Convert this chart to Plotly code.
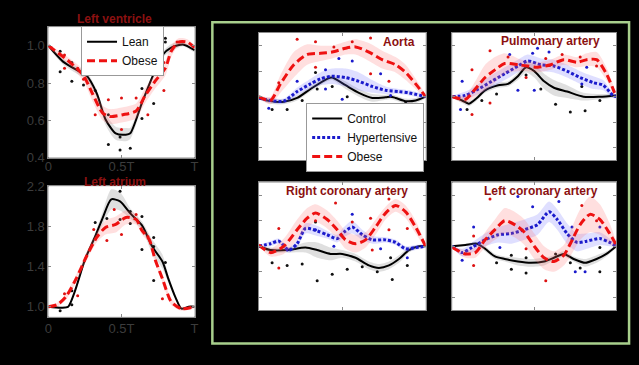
import plotly.graph_objects as go

# ---------------- DATA ----------------
# Left ventricle (normalized volume)
lv_lean_t = [0, 0.1, 0.21, 0.26, 0.33, 0.39, 0.46, 0.53, 0.56, 0.64, 0.71, 0.78, 0.84, 0.92, 1.0]
lv_lean = [1.0, 0.915, 0.863, 0.84, 0.745, 0.606, 0.53, 0.523, 0.53, 0.693, 0.83, 0.95, 0.99, 1.007, 0.976]
lv_lean_sd = [0.01, 0.015, 0.02, 0.02, 0.02, 0.03, 0.035, 0.035, 0.03, 0.02, 0.015, 0.015, 0.02, 0.01, 0.01]
lv_obese_t = [0, 0.15, 0.24, 0.30, 0.37, 0.42, 0.51, 0.6, 0.66, 0.73, 0.8, 0.84, 0.89, 0.95, 1.0]
lv_obese = [1.0, 0.91, 0.84, 0.745, 0.64, 0.62, 0.63, 0.65, 0.73, 0.81, 0.88, 0.97, 1.02, 1.02, 0.99]
lv_obese_sd = [0.01, 0.02, 0.03, 0.04, 0.04, 0.04, 0.04, 0.04, 0.04, 0.04, 0.04, 0.03, 0.02, 0.015, 0.01]
lv_lean_pts_t = [0.08, 0.08, 0.16, 0.16, 0.24, 0.24, 0.32, 0.41, 0.41, 0.49, 0.49, 0.56, 0.64, 0.64, 0.72, 0.72, 0.8, 0.8]
lv_lean_pts = [0.97, 0.86, 0.91, 0.81, 0.91, 0.79, 0.76, 0.63, 0.47, 0.44, 0.51, 0.45, 0.77, 0.61, 0.94, 0.69, 1.04, 1.02]
lv_obese_pts_t = [0.02, 0.11, 0.11, 0.2, 0.24, 0.32, 0.41, 0.5, 0.5, 0.6, 0.68, 0.79, 0.79, 0.88]
lv_obese_pts = [0.99, 0.95, 0.88, 0.88, 0.82, 0.63, 0.71, 0.72, 0.55, 0.72, 0.63, 0.91, 0.76, 1.02]

# Left atrium
la_lean_t = [0, 0.09, 0.135, 0.18, 0.25, 0.32, 0.37, 0.43, 0.49, 0.56, 0.64, 0.71, 0.78, 0.82, 0.87, 0.91, 0.96, 1.0]
la_lean = [1.0, 0.99, 1.0, 1.15, 1.47, 1.70, 1.88, 2.07, 2.05, 1.93, 1.81, 1.6, 1.45, 1.28, 1.09, 0.98, 1.0, 1.0]
la_lean_sd = [0.01, 0.01, 0.01, 0.02, 0.03, 0.04, 0.06, 0.1, 0.09, 0.05, 0.04, 0.07, 0.07, 0.04, 0.02, 0.01, 0.01, 0.01]
la_obese_t = [0, 0.06, 0.12, 0.19, 0.26, 0.33, 0.39, 0.46, 0.53, 0.6, 0.64, 0.69, 0.73, 0.78, 0.84, 0.91, 1.0]
la_obese = [1.0, 1.02, 1.1, 1.28, 1.5, 1.69, 1.79, 1.82, 1.89, 1.87, 1.76, 1.67, 1.47, 1.28, 1.05, 0.98, 1.0]
la_obese_sd = [0.01, 0.02, 0.03, 0.04, 0.04, 0.05, 0.07, 0.08, 0.07, 0.05, 0.04, 0.04, 0.04, 0.04, 0.03, 0.02, 0.01]
la_lean_pts_t = [0.08, 0.16, 0.16, 0.32, 0.32, 0.4, 0.49, 0.49, 0.56, 0.56, 0.64, 0.64, 0.72, 0.72, 0.72, 0.8]
la_lean_pts = [0.96, 1.02, 1.16, 1.84, 1.68, 1.88, 2.15, 1.87, 1.95, 1.83, 1.9, 1.57, 1.69, 1.26, 1.6, 1.44]
la_obese_pts_t = [0.11, 0.2, 0.31, 0.4, 0.45, 0.5, 0.6, 0.68, 0.78]
la_obese_pts = [1.13, 1.11, 1.77, 1.66, 1.97, 1.72, 1.92, 1.7, 1.08]

# Aorta
ao_ctl_t = [0, 0.07, 0.15, 0.23, 0.31, 0.41, 0.44, 0.52, 0.6, 0.68, 0.76, 0.79, 0.82, 0.88, 0.94, 1.0]
ao_ctl = [0.99, 0.965, 0.96, 0.99, 1.06, 1.14, 1.15, 1.09, 1.03, 0.99, 0.995, 1.0, 0.99, 0.965, 0.97, 1.0]
ao_ctl_sd = [0.01, 0.02, 0.02, 0.02, 0.02, 0.02, 0.02, 0.03, 0.03, 0.03, 0.02, 0.02, 0.02, 0.02, 0.02, 0.01]
ao_hyp_t = [0, 0.07, 0.15, 0.23, 0.31, 0.37, 0.44, 0.52, 0.6, 0.68, 0.76, 0.84, 0.9, 1.0]
ao_hyp = [0.99, 0.97, 0.965, 1.04, 1.1, 1.14, 1.16, 1.15, 1.12, 1.08, 1.05, 1.04, 1.03, 1.0]
ao_hyp_sd = [0.01, 0.02, 0.02, 0.03, 0.04, 0.05, 0.06, 0.07, 0.07, 0.05, 0.03, 0.02, 0.02, 0.01]
ao_obe_t = [0, 0.07, 0.13, 0.21, 0.29, 0.37, 0.44, 0.52, 0.58, 0.66, 0.74, 0.82, 0.88, 0.94, 1.0]
ao_obe = [1.0, 0.97, 1.1, 1.25, 1.33, 1.34, 1.35, 1.38, 1.39, 1.35, 1.29, 1.25, 1.19, 1.1, 1.0]
ao_obe_sd = [0.01, 0.03, 0.07, 0.1, 0.08, 0.06, 0.05, 0.05, 0.06, 0.07, 0.07, 0.06, 0.06, 0.04, 0.01]
ao_ctl_pts_t = [0.08, 0.17, 0.26, 0.34, 0.35, 0.44, 0.53, 0.71, 0.88]
ao_ctl_pts = [0.9, 0.9, 0.97, 1.19, 1.06, 1.08, 1.0, 0.91, 0.95]
ao_hyp_pts_t = [0.06, 0.23, 0.4, 0.4, 0.48, 0.5, 0.56, 0.69, 0.73, 0.79, 0.89]
ao_hyp_pts = [0.91, 1.12, 1.21, 1.06, 1.3, 0.98, 1.28, 0.91, 1.18, 1.01, 0.94]
ao_obe_pts_t = [0.12, 0.23, 0.34, 0.34, 0.45, 0.56, 0.67, 0.67, 0.78, 0.9]
ao_obe_pts = [1.11, 1.45, 1.43, 1.23, 1.39, 1.43, 1.46, 1.18, 1.12, 0.94]

# Pulmonary artery
pa_ctl_t = [0, 0.06, 0.1, 0.15, 0.2, 0.28, 0.34, 0.4, 0.45, 0.5, 0.56, 0.62, 0.7, 0.8, 0.9, 1.0]
pa_ctl = [1.0, 0.97, 0.945, 0.99, 1.05, 1.09, 1.1, 1.16, 1.23, 1.2, 1.12, 1.07, 1.04, 1.0, 1.0, 1.01]
pa_ctl_sd = [0.01, 0.02, 0.02, 0.02, 0.02, 0.02, 0.02, 0.03, 0.04, 0.05, 0.06, 0.06, 0.05, 0.03, 0.02, 0.01]
pa_hyp_t = [0, 0.08, 0.16, 0.24, 0.32, 0.4, 0.46, 0.54, 0.62, 0.7, 0.78, 0.86, 0.92, 0.98, 1.0]
pa_hyp = [1.0, 1.01, 1.06, 1.12, 1.18, 1.24, 1.28, 1.25, 1.24, 1.2, 1.15, 1.11, 1.09, 1.01, 1.0]
pa_hyp_sd = [0.01, 0.03, 0.04, 0.05, 0.05, 0.05, 0.05, 0.05, 0.05, 0.05, 0.05, 0.05, 0.04, 0.02, 0.01]
pa_obe_t = [0, 0.08, 0.14, 0.2, 0.26, 0.32, 0.4, 0.46, 0.52, 0.6, 0.68, 0.76, 0.82, 0.88, 0.94, 0.99]
pa_obe = [1.0, 0.98, 1.06, 1.15, 1.21, 1.26, 1.25, 1.24, 1.23, 1.25, 1.29, 1.27, 1.29, 1.29, 1.18, 1.03]
pa_obe_sd = [0.01, 0.03, 0.06, 0.1, 0.1, 0.08, 0.05, 0.04, 0.04, 0.04, 0.04, 0.04, 0.05, 0.06, 0.05, 0.02]
pa_ctl_pts_t = [0.09, 0.18, 0.27, 0.45, 0.54, 0.63, 0.72, 0.79, 0.81, 0.9]
pa_ctl_pts = [0.9, 0.97, 1.02, 1.17, 1.06, 0.94, 0.88, 1.08, 0.89, 0.97]
pa_hyp_pts_t = [0.05, 0.06, 0.35, 0.4, 0.49, 0.5, 0.52, 0.59, 0.79, 0.82]
pa_hyp_pts = [0.9, 1.12, 1.33, 1.05, 1.34, 1.05, 1.38, 1.35, 1.1, 1.23]
pa_obe_pts_t = [0.12, 0.12, 0.23, 0.23, 0.34, 0.45, 0.57, 0.67, 0.78, 0.88]
pa_obe_pts = [1.21, 0.86, 1.36, 0.95, 1.31, 1.15, 1.3, 1.33, 1.31, 1.24]

# Right coronary artery
rc_ctl_t = [0, 0.07, 0.17, 0.28, 0.35, 0.43, 0.5, 0.58, 0.66, 0.72, 0.78, 0.84, 0.9, 0.96, 1.0]
rc_ctl = [1.0, 0.97, 0.97, 0.99, 0.97, 0.94, 0.94, 0.91, 0.85, 0.83, 0.85, 0.9, 0.97, 1.0, 1.0]
rc_ctl_sd = [0.01, 0.02, 0.02, 0.04, 0.06, 0.05, 0.03, 0.03, 0.03, 0.03, 0.03, 0.03, 0.02, 0.01, 0.01]
rc_hyp_t = [0, 0.07, 0.12, 0.18, 0.23, 0.28, 0.35, 0.41, 0.47, 0.51, 0.56, 0.62, 0.68, 0.76, 0.82, 0.88, 0.94, 1.0]
rc_hyp = [1.0, 1.02, 1.04, 0.97, 1.02, 1.14, 1.12, 1.09, 1.06, 1.11, 1.15, 1.09, 1.05, 1.05, 1.03, 0.98, 0.99, 1.0]
rc_hyp_sd = [0.01, 0.02, 0.02, 0.02, 0.03, 0.04, 0.04, 0.03, 0.03, 0.04, 0.05, 0.04, 0.03, 0.02, 0.02, 0.02, 0.02, 0.01]
rc_obe_t = [0, 0.07, 0.15, 0.23, 0.29, 0.34, 0.41, 0.47, 0.52, 0.58, 0.64, 0.7, 0.76, 0.82, 0.88, 0.94, 1.0]
rc_obe = [1.01, 0.95, 1.0, 1.13, 1.22, 1.26, 1.21, 1.13, 1.05, 1.02, 1.05, 1.15, 1.26, 1.32, 1.27, 1.15, 1.0]
rc_obe_sd = [0.01, 0.03, 0.06, 0.08, 0.08, 0.07, 0.07, 0.07, 0.07, 0.07, 0.06, 0.06, 0.05, 0.05, 0.05, 0.05, 0.01]
rc_ctl_pts_t = [0.08, 0.17, 0.26, 0.34, 0.35, 0.44, 0.53, 0.62, 0.71, 0.79, 0.8, 0.89]
rc_ctl_pts = [0.87, 0.85, 0.86, 1.19, 0.73, 0.78, 0.82, 0.84, 0.8, 0.91, 0.74, 0.85]
rc_hyp_pts_t = [0.17, 0.34, 0.45, 0.56, 0.73, 0.89]
rc_hyp_pts = [0.97, 1.13, 1.0, 1.25, 0.98, 0.91]
rc_obe_pts_t = [0.12, 0.12, 0.34, 0.46, 0.56, 0.67, 0.68, 0.78, 0.78, 0.89]
rc_obe_pts = [1.14, 0.83, 1.2, 1.34, 1.19, 1.22, 0.97, 1.37, 1.13, 1.14]

# Left coronary artery
lc_ctl_t = [0, 0.08, 0.15, 0.2, 0.26, 0.32, 0.4, 0.48, 0.56, 0.62, 0.68, 0.74, 0.81, 0.88, 0.94, 1.0]
lc_ctl = [1.0, 1.01, 1.02, 0.98, 0.92, 0.9, 0.88, 0.87, 0.88, 0.91, 0.94, 0.9, 0.87, 0.9, 0.94, 1.0]
lc_ctl_sd = [0.01, 0.01, 0.01, 0.02, 0.02, 0.02, 0.03, 0.03, 0.03, 0.02, 0.02, 0.02, 0.03, 0.03, 0.02, 0.01]
lc_hyp_t = [0, 0.06, 0.12, 0.2, 0.28, 0.36, 0.44, 0.52, 0.59, 0.64, 0.7, 0.76, 0.82, 0.9, 0.96, 1.0]
lc_hyp = [1.0, 0.95, 0.99, 1.05, 1.09, 1.1, 1.13, 1.17, 1.27, 1.21, 1.1, 1.03, 1.04, 1.06, 1.03, 1.0]
lc_hyp_sd = [0.01, 0.03, 0.04, 0.05, 0.06, 0.08, 0.08, 0.08, 0.08, 0.08, 0.08, 0.07, 0.06, 0.05, 0.03, 0.01]
lc_obe_t = [0, 0.08, 0.14, 0.2, 0.26, 0.32, 0.38, 0.44, 0.5, 0.56, 0.62, 0.68, 0.72, 0.78, 0.84, 0.9, 0.96, 1.0]
lc_obe = [0.99, 0.94, 0.95, 1.05, 1.13, 1.2, 1.17, 1.11, 1.0, 0.91, 0.88, 0.93, 1.02, 1.17, 1.25, 1.21, 1.1, 1.01]
lc_obe_sd = [0.01, 0.03, 0.04, 0.06, 0.08, 0.1, 0.1, 0.1, 0.1, 0.09, 0.08, 0.08, 0.1, 0.12, 0.14, 0.12, 0.08, 0.02]
lc_ctl_pts_t = [0.27, 0.36, 0.36, 0.45, 0.45, 0.63, 0.72, 0.78, 0.9, 0.9]
lc_ctl_pts = [0.87, 0.82, 0.93, 0.79, 0.91, 0.94, 0.87, 0.83, 0.8, 0.99]
lc_hyp_pts_t = [0.06, 0.13, 0.29, 0.4, 0.49, 0.65, 0.73, 0.75, 0.81, 0.9]
lc_hyp_pts = [0.89, 1.15, 0.99, 1.39, 1.31, 1.35, 1.15, 0.8, 0.8, 1.15]
lc_obe_pts_t = [0.13, 0.13, 0.23, 0.45, 0.57, 0.79, 0.88]
lc_obe_pts = [1.08, 0.85, 1.37, 0.98, 0.73, 1.32, 1.2]

x_tick_vals = [0, 0.5, 1]
x_tick_text = ["0", "0.5T", "T"]

# ---------------- STYLE ----------------
W, H = 639, 365
BLACK, RED, BLUE = "#000000", "#ee1111", "#1a1acc"
BAND = {"k": "rgba(150,150,150,0.30)", "r": "rgba(255,110,110,0.22)", "b": "rgba(110,110,255,0.22)"}
LINE = {"k": dict(color=BLACK, width=2, dash="solid"),
        "r": dict(color=RED, width=3, dash="8px,4px"),
        "b": dict(color=BLUE, width=3, dash="3px,2px")}
DOT = {"k": "#111111", "r": "#dd1111", "b": "#1a1acc"}
TITLE_COLOR = "#8b1111"
FONT = "Arial, Liberation Sans, sans-serif"
SMOOTH = 0.7


def px_x(a, b):
    return [a / W, b / W]


def px_y(top, bottom):
    return [1 - bottom / H, 1 - top / H]


fig = go.Figure()


def add_series(ax, t, v, sd, pt_t, pt_v, key, name=None, legend=None):
    xa, ya = ("x", "y") if ax == 1 else (f"x{ax}", f"y{ax}")
    up = [a + s for a, s in zip(v, sd)]
    lo = [a - s for a, s in zip(v, sd)]
    fig.add_trace(go.Scatter(x=list(t) + list(t)[::-1], y=up + lo[::-1], fill="toself",
                             fillcolor=BAND[key], line=dict(width=0, shape="spline", smoothing=SMOOTH),
                             mode="lines", showlegend=False, hoverinfo="skip", xaxis=xa, yaxis=ya))
    fig.add_trace(go.Scatter(x=pt_t, y=pt_v, mode="markers", marker=dict(size=3, color=DOT[key]),
                             showlegend=False, xaxis=xa, yaxis=ya))
    ln = dict(LINE[key]); ln["shape"] = "spline"; ln["smoothing"] = SMOOTH
    if name is not None:
        kw = dict(name=name, showlegend=True, legend=legend)
    else:
        kw = dict(showlegend=False)
    fig.add_trace(go.Scatter(x=t, y=v, mode="lines", line=ln, xaxis=xa, yaxis=ya, **kw))


# LV (axis 1)
add_series(1, lv_lean_t, lv_lean, lv_lean_sd, lv_lean_pts_t, lv_lean_pts, "k", "Lean", "legend")
add_series(1, lv_obese_t, lv_obese, lv_obese_sd, lv_obese_pts_t, lv_obese_pts, "r", "Obese", "legend")
# LA (axis 2)
add_series(2, la_lean_t, la_lean, la_lean_sd, la_lean_pts_t, la_lean_pts, "k")
add_series(2, la_obese_t, la_obese, la_obese_sd, la_obese_pts_t, la_obese_pts, "r")
# Aorta (axis 3)
add_series(3, ao_ctl_t, ao_ctl, ao_ctl_sd, ao_ctl_pts_t, ao_ctl_pts, "k", "Control", "legend2")
add_series(3, ao_hyp_t, ao_hyp, ao_hyp_sd, ao_hyp_pts_t, ao_hyp_pts, "b", "Hypertensive", "legend2")
add_series(3, ao_obe_t, ao_obe, ao_obe_sd, ao_obe_pts_t, ao_obe_pts, "r", "Obese", "legend2")
# Pulmonary (axis 4)
add_series(4, pa_ctl_t, pa_ctl, pa_ctl_sd, pa_ctl_pts_t, pa_ctl_pts, "k")
add_series(4, pa_hyp_t, pa_hyp, pa_hyp_sd, pa_hyp_pts_t, pa_hyp_pts, "b")
add_series(4, pa_obe_t, pa_obe, pa_obe_sd, pa_obe_pts_t, pa_obe_pts, "r")
# RCA (axis 5)
add_series(5, rc_ctl_t, rc_ctl, rc_ctl_sd, rc_ctl_pts_t, rc_ctl_pts, "k")
add_series(5, rc_hyp_t, rc_hyp, rc_hyp_sd, rc_hyp_pts_t, rc_hyp_pts, "b")
add_series(5, rc_obe_t, rc_obe, rc_obe_sd, rc_obe_pts_t, rc_obe_pts, "r")
# LCA (axis 6)
add_series(6, lc_ctl_t, lc_ctl, lc_ctl_sd, lc_ctl_pts_t, lc_ctl_pts, "k")
add_series(6, lc_hyp_t, lc_hyp, lc_hyp_sd, lc_hyp_pts_t, lc_hyp_pts, "b")
add_series(6, lc_obe_t, lc_obe, lc_obe_sd, lc_obe_pts_t, lc_obe_pts, "r")

panels = {
    1: dict(xd=px_x(45, 193), yd=px_y(21, 157), yr=[0.4, 1.1], yt=[0.4, 0.6, 0.8, 1.0], labels=True, so=-3),
    2: dict(xd=px_x(45, 193), yd=px_y(187, 323), yr=[0.9, 2.2], yt=[1.0, 1.4, 1.8, 2.2], labels=True, so=0),
    3: dict(xd=px_x(258, 427), yd=px_y(27, 160), yr=[0.5, 1.5], yt=[0.6, 0.8, 1.0, 1.2, 1.4], labels=False, so=0),
    4: dict(xd=px_x(454, 620), yd=px_y(27, 160), yr=[0.5, 1.5], yt=[0.6, 0.8, 1.0, 1.2, 1.4], labels=False, so=0),
    5: dict(xd=px_x(258, 427), yd=px_y(183, 316), yr=[0.5, 1.5], yt=[0.6, 0.8, 1.0, 1.2, 1.4], labels=False, so=0),
    6: dict(xd=px_x(454, 620), yd=px_y(183, 316), yr=[0.5, 1.5], yt=[0.6, 0.8, 1.0, 1.2, 1.4], labels=False, so=0),
}

layout = {}
for i, p in panels.items():
    sx = "" if i == 1 else str(i)
    common = dict(showline=True, linecolor="#8a8a8a", linewidth=1, mirror="ticks", ticks="inside",
                  ticklen=3, tickcolor="#8a8a8a", showgrid=False, zeroline=False,
                  tickfont=dict(family=FONT, size=13, color="#3c3c3c"), showticklabels=p["labels"])
    layout["xaxis" + sx] = dict(domain=p["xd"], range=[0, 1], anchor="y" + sx, tickvals=x_tick_vals,
                                ticktext=x_tick_text, ticklabelstandoff=p["so"], **common)
    layout["yaxis" + sx] = dict(domain=p["yd"], range=p["yr"], anchor="x" + sx, tickvals=p["yt"],
                                tickformat=".1f", **common)

fig.update_layout(**layout)

shapes = []
for i, p in panels.items():
    shapes.append(dict(type="rect", xref="paper", yref="paper", x0=p["xd"][0], x1=p["xd"][1],
                       y0=p["yd"][0], y1=p["yd"][1], fillcolor="white", line=dict(width=0), layer="below"))
shapes.append(dict(type="rect", xref="paper", yref="paper", x0=211 / W, x1=633 / W, y0=1 - 351 / H, y1=1 - 16 / H,
                   line=dict(color="#a8cf8c", width=2.5), fillcolor="rgba(0,0,0,0)"))

titles = [("Left ventricle", 112, 12), ("Left atrium", 112, 183), ("Aorta", 400, 36),
          ("Pulmonary artery", 553, 35), ("Right coronary artery", 347, 192), ("Left coronary artery", 544, 192)]
annotations = [dict(text=f"<b>{s}</b>", x=x / W, y=1 - y / H, xref="paper", yref="paper", showarrow=False,
                    xanchor="center", yanchor="middle", font=dict(family=FONT, size=12, color=TITLE_COLOR))
               for s, x, y in titles]

fig.update_layout(
    width=W, height=H, margin=dict(l=0, r=0, t=0, b=0),
    paper_bgcolor="black", plot_bgcolor="white",
    shapes=shapes, annotations=annotations,
    legend=dict(x=78 / W, y=1 - 20 / H, xanchor="left", yanchor="top", bgcolor="white",
                bordercolor="#999999", borderwidth=1, font=dict(family=FONT, size=12, color="#111"),
                itemwidth=30, tracegroupgap=0),
    legend2=dict(x=306 / W, y=1 - 100 / H, xanchor="left", yanchor="top", bgcolor="white",
                 bordercolor="#999999", borderwidth=1, font=dict(family=FONT, size=12, color="#111"),
                 itemwidth=30, tracegroupgap=0),
)

fig.write_html("out.html", config={"displayModeBar": False},
               post_script="document.body.style.margin='0';document.body.style.padding='0';"
                           "document.body.style.background='black';")
